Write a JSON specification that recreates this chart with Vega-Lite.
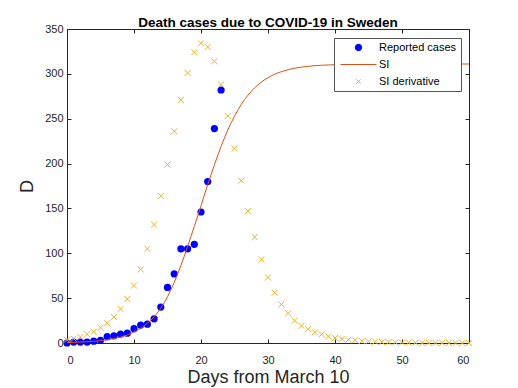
{
  "$schema": "https://vega.github.io/schema/vega-lite/v6.json",
  "width": 402,
  "height": 314,
  "autosize": {"type": "none"},
  "padding": {"left": 67, "top": 29, "right": 49, "bottom": 45},
  "background": "white",
  "title": {"text": "Death cases due to COVID-19 in Sweden", "font": "Liberation Sans", "fontSize": 13.5, "fontWeight": "bold", "color": "#000000", "anchor": "middle", "baseline": "alphabetic", "offset": 5, "dy": 22},
  "config": {
    "view": {"stroke": null},
    "axis": {"domainColor": "#262626", "tickColor": "#262626", "tickSize": -4, "labelColor": "#262626", "labelFont": "Liberation Sans", "labelFontSize": 11, "titleFont": "Liberation Sans", "titleFontSize": 18, "titleFontWeight": "normal", "titleColor": "#262626", "grid": false, "labelPadding": 8, "domainWidth": 1, "tickWidth": 1},
    "legend": {"title": null, "strokeColor": "#555555", "fillColor": "white", "padding": 4, "symbolSize": 40, "symbolStrokeWidth": 1, "symbolOpacity": 1, "symbolOffset": 15, "labelOffset": 15, "labelFont": "Liberation Sans", "labelFontSize": 11, "labelColor": "#000000", "rowPadding": 5}
  },
  "data": {"values": [
    {"series": "Reported cases", "day": 0, "D": 0},
    {"series": "Reported cases", "day": 1, "D": 1},
    {"series": "Reported cases", "day": 2, "D": 1},
    {"series": "Reported cases", "day": 3, "D": 1},
    {"series": "Reported cases", "day": 4, "D": 2},
    {"series": "Reported cases", "day": 5, "D": 3},
    {"series": "Reported cases", "day": 6, "D": 7},
    {"series": "Reported cases", "day": 7, "D": 8},
    {"series": "Reported cases", "day": 8, "D": 10},
    {"series": "Reported cases", "day": 9, "D": 11},
    {"series": "Reported cases", "day": 10, "D": 16},
    {"series": "Reported cases", "day": 11, "D": 20},
    {"series": "Reported cases", "day": 12, "D": 21},
    {"series": "Reported cases", "day": 13, "D": 27},
    {"series": "Reported cases", "day": 14, "D": 40},
    {"series": "Reported cases", "day": 15, "D": 62},
    {"series": "Reported cases", "day": 16, "D": 77},
    {"series": "Reported cases", "day": 17, "D": 105},
    {"series": "Reported cases", "day": 18, "D": 105},
    {"series": "Reported cases", "day": 19, "D": 110},
    {"series": "Reported cases", "day": 20, "D": 146},
    {"series": "Reported cases", "day": 21, "D": 180},
    {"series": "Reported cases", "day": 22, "D": 239},
    {"series": "Reported cases", "day": 23, "D": 282},
    {"series": "SI", "day": 0, "D": 0.5},
    {"series": "SI", "day": 1, "D": 0.7},
    {"series": "SI", "day": 2, "D": 1.0},
    {"series": "SI", "day": 3, "D": 1.4},
    {"series": "SI", "day": 4, "D": 1.9},
    {"series": "SI", "day": 5, "D": 2.6},
    {"series": "SI", "day": 6, "D": 3.6},
    {"series": "SI", "day": 7, "D": 4.9},
    {"series": "SI", "day": 8, "D": 6.7},
    {"series": "SI", "day": 9, "D": 9.0},
    {"series": "SI", "day": 10, "D": 12.2},
    {"series": "SI", "day": 11, "D": 16.4},
    {"series": "SI", "day": 12, "D": 22.0},
    {"series": "SI", "day": 13, "D": 29.2},
    {"series": "SI", "day": 14, "D": 38.8},
    {"series": "SI", "day": 15, "D": 51.5},
    {"series": "SI", "day": 16, "D": 67.5},
    {"series": "SI", "day": 17, "D": 86.5},
    {"series": "SI", "day": 18, "D": 107.5},
    {"series": "SI", "day": 19, "D": 130},
    {"series": "SI", "day": 20, "D": 153},
    {"series": "SI", "day": 21, "D": 176.4},
    {"series": "SI", "day": 22, "D": 198.6},
    {"series": "SI", "day": 23, "D": 219.2},
    {"series": "SI", "day": 24, "D": 237.4},
    {"series": "SI", "day": 25, "D": 252.8},
    {"series": "SI", "day": 26, "D": 265.8},
    {"series": "SI", "day": 27, "D": 276.2},
    {"series": "SI", "day": 28, "D": 284.4},
    {"series": "SI", "day": 29, "D": 290.8},
    {"series": "SI", "day": 30, "D": 295.8},
    {"series": "SI", "day": 31, "D": 299.6},
    {"series": "SI", "day": 32, "D": 302.5},
    {"series": "SI", "day": 33, "D": 304.6},
    {"series": "SI", "day": 34, "D": 306.3},
    {"series": "SI", "day": 35, "D": 307.5},
    {"series": "SI", "day": 36, "D": 308.4},
    {"series": "SI", "day": 37, "D": 309.1},
    {"series": "SI", "day": 38, "D": 309.6},
    {"series": "SI", "day": 39, "D": 309.9},
    {"series": "SI", "day": 40, "D": 310.2},
    {"series": "SI", "day": 41, "D": 310.4},
    {"series": "SI", "day": 42, "D": 310.6},
    {"series": "SI", "day": 43, "D": 310.7},
    {"series": "SI", "day": 44, "D": 310.8},
    {"series": "SI", "day": 45, "D": 310.8},
    {"series": "SI", "day": 46, "D": 310.9},
    {"series": "SI", "day": 47, "D": 310.9},
    {"series": "SI", "day": 48, "D": 310.9},
    {"series": "SI", "day": 49, "D": 310.9},
    {"series": "SI", "day": 50, "D": 311},
    {"series": "SI", "day": 51, "D": 311},
    {"series": "SI", "day": 52, "D": 311},
    {"series": "SI", "day": 53, "D": 311},
    {"series": "SI", "day": 54, "D": 311},
    {"series": "SI", "day": 55, "D": 311},
    {"series": "SI", "day": 56, "D": 311},
    {"series": "SI", "day": 57, "D": 311},
    {"series": "SI", "day": 58, "D": 311},
    {"series": "SI", "day": 59, "D": 311},
    {"series": "SI", "day": 60, "D": 311},
    {"series": "SI derivative", "day": 0, "D": 3.7},
    {"series": "SI derivative", "day": 1, "D": 4.8},
    {"series": "SI derivative", "day": 2, "D": 6.7},
    {"series": "SI derivative", "day": 3, "D": 9.7},
    {"series": "SI derivative", "day": 4, "D": 12.6},
    {"series": "SI derivative", "day": 5, "D": 17},
    {"series": "SI derivative", "day": 6, "D": 22},
    {"series": "SI derivative", "day": 7, "D": 29},
    {"series": "SI derivative", "day": 8, "D": 38},
    {"series": "SI derivative", "day": 9, "D": 49},
    {"series": "SI derivative", "day": 10, "D": 64},
    {"series": "SI derivative", "day": 11, "D": 82},
    {"series": "SI derivative", "day": 12, "D": 105},
    {"series": "SI derivative", "day": 13, "D": 132},
    {"series": "SI derivative", "day": 14, "D": 164},
    {"series": "SI derivative", "day": 15, "D": 199},
    {"series": "SI derivative", "day": 16, "D": 236},
    {"series": "SI derivative", "day": 17, "D": 271},
    {"series": "SI derivative", "day": 18, "D": 301},
    {"series": "SI derivative", "day": 19, "D": 324},
    {"series": "SI derivative", "day": 20, "D": 334},
    {"series": "SI derivative", "day": 21, "D": 330},
    {"series": "SI derivative", "day": 22, "D": 314},
    {"series": "SI derivative", "day": 23, "D": 288},
    {"series": "SI derivative", "day": 24, "D": 253},
    {"series": "SI derivative", "day": 25, "D": 217},
    {"series": "SI derivative", "day": 26, "D": 181},
    {"series": "SI derivative", "day": 27, "D": 147},
    {"series": "SI derivative", "day": 28, "D": 118},
    {"series": "SI derivative", "day": 29, "D": 93},
    {"series": "SI derivative", "day": 30, "D": 73},
    {"series": "SI derivative", "day": 31, "D": 56},
    {"series": "SI derivative", "day": 32, "D": 43},
    {"series": "SI derivative", "day": 33, "D": 33},
    {"series": "SI derivative", "day": 34, "D": 25},
    {"series": "SI derivative", "day": 35, "D": 19},
    {"series": "SI derivative", "day": 36, "D": 15.6},
    {"series": "SI derivative", "day": 37, "D": 11.9},
    {"series": "SI derivative", "day": 38, "D": 9.7},
    {"series": "SI derivative", "day": 39, "D": 7.4},
    {"series": "SI derivative", "day": 40, "D": 5.6},
    {"series": "SI derivative", "day": 41, "D": 4.5},
    {"series": "SI derivative", "day": 42, "D": 3.7},
    {"series": "SI derivative", "day": 43, "D": 3.0},
    {"series": "SI derivative", "day": 44, "D": 2.2},
    {"series": "SI derivative", "day": 45, "D": 1.9},
    {"series": "SI derivative", "day": 46, "D": 1.5},
    {"series": "SI derivative", "day": 47, "D": 1.2},
    {"series": "SI derivative", "day": 48, "D": 0.9},
    {"series": "SI derivative", "day": 49, "D": 0.7},
    {"series": "SI derivative", "day": 50, "D": 0.55},
    {"series": "SI derivative", "day": 51, "D": 0.43},
    {"series": "SI derivative", "day": 52, "D": 0.33},
    {"series": "SI derivative", "day": 53, "D": 0.25},
    {"series": "SI derivative", "day": 54, "D": 0.2},
    {"series": "SI derivative", "day": 55, "D": 0.15},
    {"series": "SI derivative", "day": 56, "D": 0.12},
    {"series": "SI derivative", "day": 57, "D": 0.09},
    {"series": "SI derivative", "day": 58, "D": 0.07},
    {"series": "SI derivative", "day": 59, "D": 0.05},
    {"series": "SI derivative", "day": 60, "D": 0.04}
  ]},
  "resolve": {"axis": {"x": "independent", "y": "independent"}},
  "layer": [
    {
      "transform": [{"filter": "datum.series === 'Reported cases'"}],
      "mark": {"type": "point", "filled": true, "size": 52, "opacity": 1, "clip": false},
      "encoding": {
        "x": {"field": "day", "type": "quantitative", "scale": {"domain": [0, 60], "nice": false}, "axis": {"orient": "bottom", "values": [0, 10, 20, 30, 40, 50, 60], "title": "Days from March 10", "titlePadding": 3, "labelPadding": 15}},
        "y": {"field": "D", "type": "quantitative", "scale": {"domain": [0, 350], "nice": false}, "axis": {"orient": "left", "values": [0, 50, 100, 150, 200, 250, 300, 350], "title": "D", "titlePadding": 8}},
        "color": {"field": "series", "type": "nominal", "scale": {"domain": ["Reported cases", "SI", "SI derivative"], "range": ["#0000ff", "#D95319", "#EDB120"]}, "legend": {"orient": "none", "legendX": 267, "legendY": 9}},
        "shape": {"field": "series", "type": "nominal", "scale": {"domain": ["Reported cases", "SI", "SI derivative"], "range": ["circle", "M-5.7,0L5.7,0", "M-0.71,-0.71L0.71,0.71M0.71,-0.71L-0.71,0.71"]}, "legend": {"orient": "none", "legendX": 267, "legendY": 9}}
      }
    },
    {
      "transform": [{"filter": "datum.series === 'SI'"}],
      "mark": {"type": "line", "strokeWidth": 1, "interpolate": "monotone", "clip": false},
      "encoding": {
        "x": {"field": "day", "type": "quantitative", "scale": {"domain": [0, 60], "nice": false}, "axis": {"orient": "top", "values": [0, 10, 20, 30, 40, 50, 60], "labels": false, "title": null}},
        "y": {"field": "D", "type": "quantitative", "scale": {"domain": [0, 350], "nice": false}, "axis": {"orient": "right", "values": [0, 50, 100, 150, 200, 250, 300, 350], "labels": false, "title": null}},
        "color": {"field": "series", "type": "nominal"}
      }
    },
    {
      "transform": [{"filter": "datum.series === 'SI derivative'"}],
      "mark": {"type": "point", "filled": false, "size": 72, "strokeWidth": 1, "opacity": 1, "clip": false},
      "encoding": {
        "x": {"field": "day", "type": "quantitative", "axis": null},
        "y": {"field": "D", "type": "quantitative", "axis": null},
        "color": {"field": "series", "type": "nominal"},
        "shape": {"field": "series", "type": "nominal"}
      }
    }
  ]
}
